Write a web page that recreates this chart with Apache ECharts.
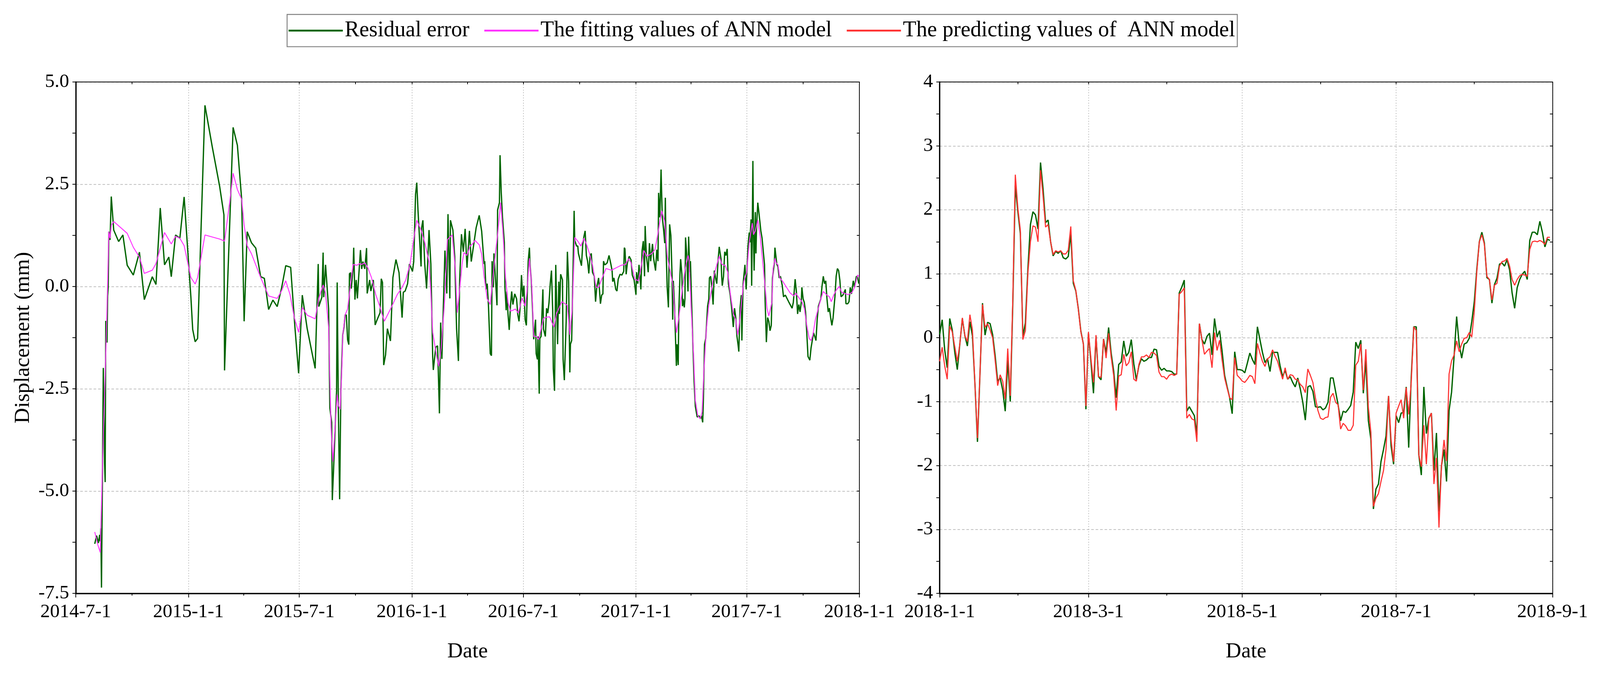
<!DOCTYPE html>
<html>
<head>
<meta charset="utf-8">
<script src="https://cdn.jsdelivr.net/npm/echarts@6/dist/echarts.min.js"></script>
<style>
  html, body { margin: 0; padding: 0; background: #ffffff; overflow: hidden; }
  #chart { width: 100vw; height: 100vh; }
</style>
</head>
<body>
<div id="chart"></div>
<script>
// ---------------- DATA ----------------
// Left panel (2014-7-1 .. 2018-1-1): x values are day offsets after 2014-07-01
const leftStartDate = '2014-7-1';
const leftTickLabels = ['2014-7-1','2015-1-1','2015-7-1','2016-1-1','2016-7-1','2017-1-1','2017-7-1','2018-1-1'];
const leftMinorTickDates = ['2014-10-1','2015-4-1','2015-10-1','2016-4-1','2016-10-1','2017-4-1','2017-10-1'];
const leftYTicks = { min: -7.5, max: 5, step: 2.5 };

const residualDayOffsets = [
  31,34,37,39,40,41,42,45,47,48,49,51,52,53,54,56,58,62,70,77,
  84,94,104,112,125,131,138,145,152,156,163,170,177,188,191,195,199,211,223,235,
  242,243,257,264,271,275,280,287,294,302,308,315,322,329,
  336,343,351,358,364,370,378,391,396,397,402,404,405,408,413,415,418,419,421,426,
  427,429,431,433,436,438,440,442,444,446,447,449,450,453,454,456,458,460,462,465,
  467,469,472,475,476,480,482,486,489,492,497,499,501,503,506,509,514,518,523,528,
  531,533,535,538,542,545,550,552,555,557,559,564,565,567,570,573,577,580,583,584,
  588,591,594,596,598,603,606,608,611,612,616,619,622,625,627,630,633,636,639,643,
  646,654,659,663,
  667,668,670,672,674,677,679,680,682,683,686,688,689,692,693,695,697,700,701,703,
  704,706,708,710,712,714,717,720,722,724,726,728,730,732,734,736,737,739,741,742,
  744,746,748,751,752,754,755,757,758,760,763,764,767,769,771,773,775,777,779,780,
  782,784,786,787,789,790,792,795,796,798,801,803,805,807,808,810,812,814,815,818,
  820,821,826,828,830,832,834,836,838,840,842,844,847,849,851,854,857,859,861,862,
  864,866,868,871,874,876,877,879,882,884,886,889,892,895,896,897,899,901,904,907,
  909,912,915,916,918,920,923,925,927,929,930,932,935,937,939,942,944,947,949,951,
  952,954,956,958,960,962,963,
  964,966,968,970,972,974,975,976,978,980,981,982,984,985,987,988,990,991,992,994,
  995,996,998,1000,1001,1003,1004,1006,1008,1010,1012,1015,1018,1020,1022,1024,1025,1027,1029,1032,
  1034,1035,1037,1039,1041,1043,1045,1047,1049,1051,1054,1055,1056,1058,1060,1062,1064,1066,1069,1071,
  1074,1076,1078,1080,1082,1083,1085,1087,1088,1090,1093,1095,1098,1100,1101,1103,1104,1105,1106,1107,
  1108,1110,1111,1112,1114,1116,1119,1121,1123,1125,1126,1128,1130,1132,1134,1136,1138,1141,1142,1145,
  1147,1149,1151,1154,1156,1159,1165,1170,1172,1173,1175,1177,1179,1181,1183,1185,1186,1188,1190,1192,
  1194,1196,1199,1201,1203,1205,1207,1209,1211,1213,1217,1219,1221,1223,1225,1227,1229,1231,1233,1235,
  1237,1240,1242,1244,1246,1248,1250,1253,1257,1258,1261,1263,1265,1267,1270,1272,1275,1277,1279
];
const residualValues = [
  -6.29,-6.09,-6.27,-6.07,-6.23,-5.91,-7.36,-1.99,-4.32,-4.78,-0.84,-1.37,-0.23,-0.02,1.34,1.14,2.20,1.38,1.10,1.26,
  0.52,0.28,0.84,-0.32,0.24,0.05,1.92,0.53,0.72,0.24,1.26,1.18,2.19,-0.25,-1.05,-1.35,-1.27,4.43,3.41,2.45,
  1.75,-2.05,3.89,3.45,2.13,-0.85,1.34,1.07,0.94,0.24,0.20,-0.56,-0.33,-0.49,
  -0.05,0.51,0.47,-1.0,-2.12,-0.21,-1.03,-2.0,0.55,-0.49,-0.26,0.83,-0.26,0.53,-0.55,-2.97,-3.32,-5.22,-4.51,-2.55,
  0.10,-3.09,-5.20,-2.55,-1.19,-1.0,-0.69,-0.70,-1.30,-1.42,0.31,0.34,-0.05,0.46,0.95,-0.32,0.16,-0.29,0.21,0.89,
  0.43,0.61,0.43,0.94,-0.17,0.16,-0.11,0.16,-0.94,-0.82,-0.64,0.19,0.10,-1.92,-1.67,-1.03,-1.33,0.22,0.66,0.34,
  -0.30,-0.76,-0.14,-0.11,0.07,0.55,0.37,0.61,2.25,2.54,1.86,0.49,1.44,1.62,0.55,-0.05,1.38,0.55,-1.72,-2.04,
  -1.48,-1.45,-3.10,-0.88,-1.77,0.88,-0.17,1.77,-0.29,1.62,1.38,0.73,-1.03,-1.82,0.13,1.28,0.85,1.41,0.46,1.36,
  0.61,1.44,1.74,1.35,
  0.55,0.62,-0.07,0.07,-0.44,-1.64,-1.69,0.62,-0.02,0.81,0.07,-0.46,1.87,2.05,3.21,2.29,1.69,1.08,-0.02,-0.58,
  -0.12,-0.67,-1.06,-0.48,-0.12,-0.44,-0.18,-0.30,-0.69,-0.85,-0.48,0.28,-0.25,0.02,-0.81,-0.95,-0.39,0.62,0.95,0.53,
  0.16,-0.53,-1.29,-0.81,-1.64,-1.78,-1.22,-2.62,-1.27,-1.22,-0.07,-1.04,-1.22,-0.53,-0.65,-0.39,0.07,0.39,-0.58,-2.01,
  -2.55,0.53,-0.81,-1.41,0.12,-0.67,0.30,0.16,-1.78,-2.29,-0.85,0.85,0.12,-2.10,-1.41,-1.32,0.21,1.85,1.13,0.99,
  0.99,0.81,0.51,1.02,1.22,1.36,0.76,0.62,0.32,0.74,0.81,0.35,0.25,-0.37,-0.02,0.21,-0.42,-0.21,-0.18,0.62,
  0.53,0.55,0.58,0.76,0.55,0.39,0.12,0.21,-0.07,-0.11,0.18,0.30,0.28,0.37,0.95,0.92,0.30,0.58,0.74,0.65,
  0.28,0.16,-0.20,0.35,0.07,0.53,-0.07,0.88,1.11,0.25,1.48,0.76,0.35,1.06,0.62,1.04,0.67,0.39,0.90,0.62,
  2.29,1.69,2.86,1.69,1.41,1.06,2.17,
  1.04,-0.02,-0.51,1.52,1.25,0.25,-0.81,0.14,-0.48,-1.45,-1.94,-1.41,-1.92,-0.62,0.35,0.67,0.30,-0.48,-0.30,-0.51,
  -0.30,1.20,0.76,-0.12,1.22,0.35,0.62,-0.44,-1.41,-2.33,-2.93,-3.19,-3.16,-3.23,-3.16,-3.32,-2.84,-1.41,-1.27,-0.48,
  -0.30,0.21,0.25,-0.02,-0.44,0.39,0.21,0.07,0.62,0.97,0.67,0.25,0.02,0.25,0.85,0.76,0.92,0.07,-0.21,-0.48,
  -0.99,-0.53,-0.76,-1.22,-1.45,-1.59,-0.53,-0.21,-1.32,0.07,0.53,-0.07,0.99,1.32,1.08,1.64,0.02,1.45,3.07,1.22,
  0.39,1.82,0.81,1.45,2.05,1.78,1.36,1.18,0.85,0.53,-0.35,-1.36,-0.76,-0.85,-1.08,-0.95,0.21,0.58,0.95,0.55,
  0.48,0.21,0.25,0.02,-0.25,-0.21,-0.39,-0.53,-0.39,-0.21,0.18,-0.12,-0.67,-0.44,-0.62,-0.39,-0.02,-0.30,-0.39,-0.62,
  -1.13,-1.71,-1.80,-1.50,-1.32,-1.13,-1.22,-1.32,-0.81,-0.48,-0.30,0.02,0.25,0.07,0.14,-0.30,-0.62,-0.53,-0.76,-0.95,
  -0.76,-0.25,0.25,0.44,0.39,0.16,-0.25,-0.21,-0.07,-0.42,-0.42,-0.37,-0.02,-0.18,0.14,-0.02,0.25,0.23,0.07
];

const fittedDayOffsets = [
  31,36,40,44,48,51,54,56,58,62,84,94,104,112,125,131,145,156,163,170,
  177,188,195,199,211,235,243,252,257,264,271,275,280,287,302,315,329,336,343,350,
  357,364,370,378,391,397,404,408,413,415,417,420,423,427,429,432,435,436,440,444,
  447,450,453,459,464,467,472,477,483,490,496,504,509,516,525,533,539,546,553,557,
  564,570,577,580,583,589,593,597,602,607,611,615,620,623,626,631,634,639,644,648,
  652,659,663,667,672,677,684,689,694,698,702,706,710,714,718,723,729,734,737,741,
  745,748,752,756,764,768,774,781,785,794,803,807,811,815,820,825,830,834,839,844,
  850,854,858,866,875,883,891,898,903,907,913,919,924,928,933,941,946,950,954,957,
  962,966,970,975,978,981,985,991,995,1000,1002,1005,1009,1012,1016,1020,1023,1026,1030,1034,
  1038,1042,1047,1051,1055,1061,1065,1069,1074,1078,1081,1084,1088,1091,1096,1100,1105,1107,1110,1114,
  1118,1122,1126,1129,1132,1137,1139,1142,1144,1147,1150,1155,1161,1167,1173,1176,1180,1186,1190,1194,
  1198,1201,1204,1208,1212,1217,1221,1227,1231,1234,1238,1242,1247,1251,1258,1262,1268,1272,1277,1279
];
const fittedValues = [
  -6.0,-6.31,-6.50,-4.16,-2.17,-0.57,1.34,1.18,1.50,1.59,1.30,0.96,0.72,0.32,0.40,0.56,1.32,1.04,1.23,1.18,
  1.00,0.22,0.06,0.22,1.26,1.16,1.11,2.13,2.77,2.37,2.13,1.50,1.0,0.80,0.22,-0.23,-0.29,-0.11,0.14,-0.20,
  -0.76,-1.12,-0.51,-0.70,-0.79,-0.29,0.04,-0.17,-1.0,-2.25,-3.44,-4.28,-3.56,-2.64,-2.91,-3.0,-1.83,-1.21,-0.69,-0.55,
  -0.17,0.19,0.54,0.52,0.56,0.54,0.58,0.46,0.22,-0.20,-0.46,-0.85,-0.70,-0.49,-0.20,-0.02,0.16,0.55,1.26,1.62,
  1.38,1.08,0.61,-0.17,-1.12,-1.66,-1.95,-1.48,-0.46,1.14,1.21,1.26,0.43,-0.64,-0.23,0.55,0.83,0.76,0.99,1.04,
  1.13,1.02,0.79,0.25,-0.30,-0.44,0.62,1.27,2.05,1.27,0.21,-0.39,-0.60,-0.58,-0.55,-0.65,-0.28,-0.48,-0.12,0.69,
  -0.02,-1.22,-1.22,-1.29,-0.78,-0.75,-0.74,-0.99,-0.67,-0.37,-0.46,-1.18,-0.53,1.20,1.11,0.99,1.18,1.04,0.81,0.53,
  -0.02,-0.02,0.14,0.44,0.40,0.46,0.52,0.54,0.68,0.58,0.18,0.14,0.53,0.88,0.74,0.81,0.90,1.22,1.59,1.85,
  1.59,0.76,0.44,0.07,-0.58,-1.13,-0.76,-0.02,0.39,0.76,0.62,-0.48,-1.64,-2.79,-3.16,-3.23,-3.07,-2.05,-1.04,-0.44,
  -0.12,0.25,0.53,0.74,0.55,0.51,0.35,-0.16,-0.67,-0.81,-1.18,-0.90,-0.30,0.12,0.35,1.08,1.55,1.27,1.36,1.62,
  1.22,0.62,-0.02,-0.53,-0.72,-0.39,0.44,0.69,0.58,0.53,0.21,0.12,-0.02,-0.16,-0.23,-0.16,-0.25,-0.37,-0.53,-0.95,
  -1.27,-1.32,-1.18,-0.81,-0.58,-0.30,-0.12,-0.21,-0.25,-0.37,-0.21,-0.09,0.00,-0.14,-0.18,-0.20,-0.14,-0.02,0.28,0.25
];

// Right panel (2018-1-1 .. 2018-9-1): daily values starting 2018-01-01
const rightStartDate = '2018-1-1';
const rightTickLabels = ['2018-1-1','2018-3-1','2018-5-1','2018-7-1','2018-9-1'];
const rightMinorTickDates = ['2018-2-1','2018-4-1','2018-6-1','2018-8-1'];
const rightYTicks = { min: -4, max: 4, step: 1 };

const rightResidual = [
  0.05,0.28,-0.19,-0.47,0.30,0.12,-0.23,-0.50,-0.10,0.30,
  0.03,-0.13,0.25,0.03,-0.73,-1.63,-0.56,0.54,0.04,0.24,
  0.22,0.05,-0.28,-0.68,-0.63,-0.82,-1.15,-0.35,-1.0,0.52,
  2.38,1.98,1.63,0.02,0.23,1.08,1.77,1.97,1.92,1.70,
  2.74,2.33,1.80,1.84,1.50,1.28,1.35,1.32,1.36,1.25,
  1.23,1.27,1.63,0.85,0.73,0.45,0.10,-0.10,-1.12,0.07,
  -0.38,-0.87,0.02,-0.61,-0.66,-0.02,-0.24,0.16,-0.24,-0.52,
  -0.94,-0.42,-0.38,-0.05,-0.29,-0.23,-0.03,-0.41,-0.66,-0.44,
  -0.33,-0.37,-0.35,-0.31,-0.31,-0.18,-0.19,-0.45,-0.51,-0.48,
  -0.52,-0.52,-0.53,-0.57,-0.57,0.70,0.79,0.90,-1.15,-1.08,
  -1.15,-1.22,-1.52,0.22,-0.03,-0.10,0.02,0.07,-0.27,0.30,
  0.01,0.11,-0.21,-0.59,-0.77,-0.94,-1.19,-0.22,-0.50,-0.50,
  -0.51,-0.55,-0.40,-0.24,-0.34,-0.42,0.17,-0.03,-0.23,-0.39,
  -0.33,-0.53,-0.23,-0.23,-0.23,-0.44,-0.61,-0.51,-0.65,-0.61,
  -0.70,-0.77,-0.63,-0.80,-1.01,-1.29,-0.77,-0.75,-0.84,-1.08,
  -1.09,-1.08,-1.13,-1.10,-1.01,-0.63,-0.63,-0.84,-1.05,-1.30,
  -1.15,-1.17,-1.12,-1.06,-0.85,-0.07,-0.17,-0.04,-0.87,-0.35,
  -1.30,-1.59,-2.68,-2.37,-2.29,-1.94,-1.75,-1.54,-0.91,-1.69,
  -1.98,-1.22,-1.33,-1.18,-1.17,-0.77,-1.72,-0.62,0.17,0.17,
  -1.83,-2.15,-0.77,-1.50,-1.26,-1.18,-2.08,-1.49,-2.72,-2.0,
  -1.75,-2.25,-1.14,-0.85,-0.29,0.33,-0.10,-0.32,-0.10,-0.08,
  -0.01,0.25,0.56,1.07,1.50,1.65,1.48,0.94,0.91,0.54,
  0.83,0.93,1.15,1.17,1.12,1.22,1.06,0.70,0.46,0.78,
  0.91,0.99,1.04,0.91,1.52,1.65,1.65,1.61,1.82,1.65,
  1.42,1.54,1.52
];
const rightPredicted = [
  -0.37,-0.15,-0.44,-0.65,0.18,0.09,-0.14,-0.37,-0.10,0.31,
  0.03,-0.06,0.36,0.12,-0.73,-1.57,-0.56,0.52,0.16,0.22,
  0.12,0.0,-0.35,-0.75,-0.58,-0.68,-0.96,-0.17,-0.91,0.59,
  2.55,2.03,1.68,-0.03,0.11,1.01,1.50,1.75,1.73,1.50,
  2.62,2.22,1.73,1.77,1.50,1.30,1.36,1.34,1.36,1.31,
  1.31,1.37,1.74,0.89,0.74,0.44,0.09,-0.10,-1.07,0.09,
  -0.33,-0.70,0.04,-0.61,-0.62,-0.02,-0.32,0.07,-0.30,-0.59,
  -1.14,-0.60,-0.58,-0.26,-0.44,-0.39,-0.22,-0.65,-0.68,-0.42,
  -0.30,-0.30,-0.27,-0.31,-0.23,-0.24,-0.28,-0.54,-0.61,-0.61,
  -0.65,-0.59,-0.57,-0.59,-0.57,0.68,0.72,0.78,-1.26,-1.20,
  -1.27,-1.29,-1.63,0.22,-0.03,-0.26,-0.21,-0.17,-0.47,0.08,
  -0.20,-0.04,-0.35,-0.63,-0.79,-0.94,-0.97,-0.31,-0.59,-0.63,
  -0.68,-0.70,-0.65,-0.59,-0.61,-0.72,-0.09,-0.24,-0.37,-0.45,
  -0.33,-0.30,-0.19,-0.29,-0.37,-0.51,-0.65,-0.47,-0.65,-0.58,
  -0.59,-0.65,-0.66,-0.73,-0.77,-0.86,-0.49,-0.59,-0.70,-0.94,
  -1.14,-1.26,-1.28,-1.25,-1.24,-0.93,-0.87,-1.01,-1.05,-1.43,
  -1.34,-1.38,-1.45,-1.45,-1.37,-0.43,-0.37,-0.10,-0.82,-0.18,
  -1.09,-1.48,-2.64,-2.51,-2.44,-2.25,-2.08,-1.75,-0.91,-1.59,
  -1.94,-1.18,-1.07,-0.97,-1.26,-0.78,-1.20,-0.70,0.17,0.11,
  -1.83,-2.02,-1.37,-1.98,-1.26,-1.18,-2.29,-1.88,-2.97,-2.0,
  -1.60,-1.93,-0.57,-0.36,-0.27,-0.05,-0.22,-0.10,-0.01,0.0,
  0.08,0.01,0.41,1.03,1.50,1.61,1.46,0.96,0.91,0.59,
  0.82,0.85,1.12,1.19,1.20,1.24,1.12,0.91,0.82,0.91,
  0.97,0.99,0.98,0.96,1.38,1.50,1.51,1.50,1.52,1.50,
  1.46,1.57,1.57
];

const seriesNames = ['Residual error', 'The fitting values of ANN model', 'The predicting values of  ANN model'];

// ---------------- LAYOUT (reference is 4308 x 1724; scaled to the actual viewport) ----------------
const REF_W = 4308, REF_H = 1724;
const VW = window.innerWidth || REF_W, VH = window.innerHeight || REF_H;
const SX = VW / REF_W, SY = VH / REF_H, S = Math.min(SX, SY);
const X = v => v * SX, Y = v => v * SY, P = v => v * S;

// ---------------- HELPERS ----------------
const FONT = "'Liberation Serif', 'Times New Roman', serif";
function parseDate(s) { const p = s.split('-').map(Number); return new Date(p[0], p[1] - 1, p[2]).getTime(); }
function offsetDate(s, days) { const p = s.split('-').map(Number); return new Date(p[0], p[1] - 1, p[2] + days).getTime(); }
function fmtDate(v) { const d = new Date(Math.round(v)); return d.getFullYear() + '-' + (d.getMonth() + 1) + '-' + d.getDate(); }
function pairs(start, offs, vals) { const n = Math.min(offs.length, vals.length); const out = []; for (let i = 0; i < n; i++) out.push([offsetDate(start, offs[i]), vals[i]]); return out; }
function daily(start, vals) { return vals.map((v, i) => [offsetDate(start, i), v]); }

const leftMajor = leftTickLabels.map(parseDate);
const leftMinor = leftMinorTickDates.map(parseDate);
const leftAll = leftMajor.concat(leftMinor).sort((a, b) => a - b);
const rightMajor = rightTickLabels.map(parseDate);
const rightMinor = rightMinorTickDates.map(parseDate);
const rightAll = rightMajor.concat(rightMinor).sort((a, b) => a - b);

const BLACK = '#000000';
const labelStyle = { fontFamily: FONT, fontSize: P(52), color: BLACK };
const nameStyle = { fontFamily: FONT, fontSize: P(58), color: BLACK };
const vSplit = { show: true, lineStyle: { color: '#ababab', width: P(2), type: [P(2), P(5)] } };
const hSplit = { show: true, lineStyle: { color: '#ababab', width: P(1.5), type: [P(7), P(5)] } };

function mainX(grid, major, nameGap) {
  return {
    type: 'value', gridIndex: grid, position: 'bottom', scale: true,
    min: major[0], max: major[major.length - 1],
    axisLine: { show: true, onZero: false, lineStyle: { color: BLACK, width: P(3.5) } },
    axisTick: { show: true, length: P(11), customValues: major, lineStyle: { color: BLACK, width: P(2) } },
    axisLabel: { show: true, customValues: major, formatter: fmtDate, margin: Y(24), hideOverlap: false, showMinLabel: true, showMaxLabel: true, ...labelStyle },
    splitLine: vSplit,
    name: 'Date', nameLocation: 'middle', nameGap: Y(nameGap), nameTextStyle: nameStyle
  };
}
function minorX(grid, major, ticks) {
  return {
    type: 'value', gridIndex: grid, position: 'bottom', scale: true,
    min: major[0], max: major[major.length - 1],
    axisLine: { show: false, onZero: false },
    axisTick: { show: true, length: P(6), customValues: ticks, lineStyle: { color: BLACK, width: P(2) } },
    axisLabel: { show: false }, splitLine: { show: false }
  };
}
function topX(grid, major, ticks) {
  return {
    type: 'value', gridIndex: grid, position: 'top', scale: true,
    min: major[0], max: major[major.length - 1],
    axisLine: { show: true, onZero: false, lineStyle: { color: BLACK, width: P(2) } },
    axisTick: { show: true, inside: true, length: P(6), customValues: ticks, lineStyle: { color: BLACK, width: P(2) } },
    axisLabel: { show: false }, splitLine: { show: false }
  };
}
function mainY(grid, t, fmt, name) {
  const o = {
    type: 'value', gridIndex: grid, position: 'left', min: t.min, max: t.max, interval: t.step,
    axisLine: { show: true, onZero: false, lineStyle: { color: BLACK, width: P(3.5) } },
    axisTick: { show: true, length: P(9), lineStyle: { color: BLACK, width: P(2) } },
    minorTick: { show: true, splitNumber: 2, length: P(9), lineStyle: { color: BLACK, width: P(2) } },
    axisLabel: { show: true, formatter: fmt, margin: X(18), ...labelStyle },
    splitLine: hSplit
  };
  if (name) { o.name = name; o.nameLocation = 'middle'; o.nameGap = X(112); o.nameRotate = 90; o.nameTextStyle = nameStyle; }
  return o;
}
function rightY(grid, t) {
  return {
    type: 'value', gridIndex: grid, position: 'right', min: t.min, max: t.max, interval: t.step,
    axisLine: { show: true, onZero: false, lineStyle: { color: BLACK, width: P(2) } },
    axisTick: { show: true, inside: true, length: P(7), lineStyle: { color: BLACK, width: P(2) } },
    minorTick: { show: true, splitNumber: 2, length: P(7), lineStyle: { color: BLACK, width: P(2) } },
    axisLabel: { show: false }, splitLine: { show: false }
  };
}

const GREEN = '#006400', MAGENTA = '#ff33ff', RED = '#ff3333';

const option = {
  backgroundColor: '#ffffff',
  animation: false,
  legend: {
    left: X(773), top: Y(37),
    padding: [P(14), P(6), P(14), P(4)],
    itemGap: X(40), itemWidth: X(146), itemHeight: P(5),
    icon: 'rect',
    borderColor: '#808080', borderWidth: P(2.5),
    textStyle: { fontFamily: FONT, fontSize: P(59), color: BLACK },
    data: seriesNames
  },
  grid: [
    { left: X(204), top: Y(210), width: X(2110), height: Y(1310), containLabel: false },
    { left: X(2530), top: Y(210), width: X(1650), height: Y(1310), containLabel: false }
  ],
  xAxis: [
    mainX(0, leftMajor, 122),
    minorX(0, leftMajor, leftMinor),
    topX(0, leftMajor, leftAll),
    mainX(1, rightMajor, 122),
    minorX(1, rightMajor, rightMinor),
    topX(1, rightMajor, rightAll)
  ],
  yAxis: [
    mainY(0, leftYTicks, v => v.toFixed(1), 'Displacement (mm)'),
    rightY(0, leftYTicks),
    mainY(1, rightYTicks, v => String(v), null),
    rightY(1, rightYTicks)
  ],
  series: [
    { name: seriesNames[0], type: 'line', xAxisIndex: 0, yAxisIndex: 0, symbol: 'none', showSymbol: false,
      data: pairs(leftStartDate, residualDayOffsets, residualValues),
      lineStyle: { color: GREEN, width: P(3.5) }, itemStyle: { color: GREEN }, z: 3 },
    { name: seriesNames[1], type: 'line', xAxisIndex: 0, yAxisIndex: 0, symbol: 'none', showSymbol: false,
      data: pairs(leftStartDate, fittedDayOffsets, fittedValues),
      lineStyle: { color: MAGENTA, width: P(2.5) }, itemStyle: { color: MAGENTA }, z: 4 },
    { name: seriesNames[0], type: 'line', xAxisIndex: 3, yAxisIndex: 2, symbol: 'none', showSymbol: false,
      data: daily(rightStartDate, rightResidual),
      lineStyle: { color: GREEN, width: P(3.5) }, itemStyle: { color: GREEN }, z: 3 },
    { name: seriesNames[2], type: 'line', xAxisIndex: 3, yAxisIndex: 2, symbol: 'none', showSymbol: false,
      data: daily(rightStartDate, rightPredicted),
      lineStyle: { color: RED, width: P(3) }, itemStyle: { color: RED }, z: 4 }
  ]
};

const chart = echarts.init(document.getElementById('chart'), null, { renderer: 'canvas' });
chart.setOption(option);
window.addEventListener('resize', () => chart.resize());
</script>
</body>
</html>
